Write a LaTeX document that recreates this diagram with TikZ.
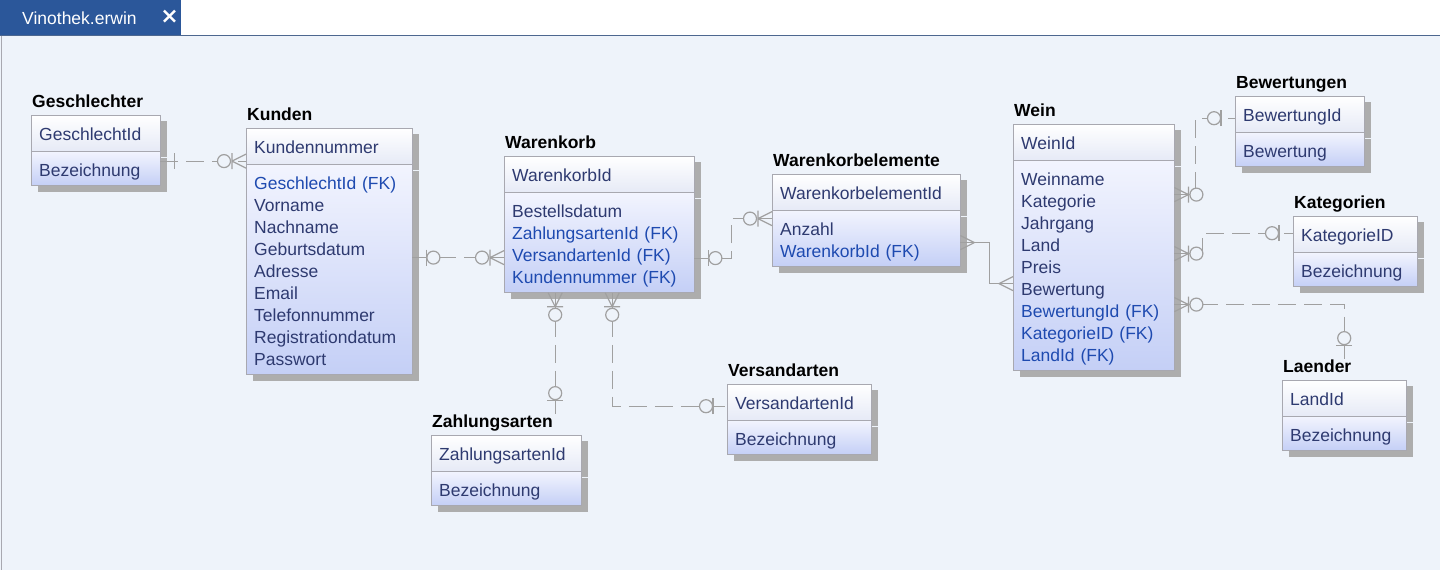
\documentclass[tikz,border=0pt]{standalone}
\usepackage{fontspec}
\setmainfont{Liberation Sans}
\newfontfamily\symfont{DejaVu Sans}
\usepackage{tikz}
\usetikzlibrary{shadows}

\definecolor{tabblue}{HTML}{2B579A}
\definecolor{canvas}{HTML}{EEF3FA}
\definecolor{navy}{HTML}{2E3A70}
\definecolor{fkblue}{HTML}{1E4AB0}
\definecolor{lgray}{HTML}{A0A0A0}
\definecolor{boxline}{HTML}{A8A8B0}
\definecolor{entshade}{HTML}{ADADAD}
\definecolor{keybot}{HTML}{E6EAF6}
\definecolor{atttop}{HTML}{F2F4FE}
\definecolor{attbot}{HTML}{C4CFF6}

\newcommand{\fk}[1]{\textcolor{fkblue}{#1}}
% name, x, y, width, title, key, attributes
\newcommand{\entity}[7]{%
  \pgfmathsetmacro{\entw}{#4-16}%
  \node[keybox, text width=\entw pt] (#1H) at (#2,#3) {#6};
  \node[attbox, text width=\entw pt] (#1B) at (#1H.south west) {#7};
  \node[titlebox] (#1T) at ([xshift=1pt,yshift=8pt]#1H.north west) {#5};
}

\tikzset{
  entshadow/.style={drop shadow={shadow xshift=7pt, shadow yshift=-6pt, fill=entshade, opacity=1}},
  keybox/.style={anchor=north west, draw=boxline, top color=white, bottom color=keybot,
    inner xsep=8pt, inner ysep=0pt, align=left, text=navy, entshadow,
    font=\fontsize{17.5}{22}\selectfont, execute at begin node=\rule[-11pt]{0pt}{36pt}},
  attbox/.style={anchor=north west, draw=boxline, top color=atttop, bottom color=attbot,
    inner xsep=8pt, inner ysep=0pt, align=left, text=navy, entshadow,
    font=\fontsize{17.5}{22}\selectfont, execute at begin node=\rule{0pt}{25pt},
    execute at end node=\rule[-9pt]{0pt}{9pt}},
  titlebox/.style={anchor=base west, inner sep=0pt, font=\bfseries\fontsize{17.5}{22}\selectfont},
  rel/.style={draw=lgray, line width=1.2pt, dash pattern=on 18pt off 8pt},
  idrel/.style={draw=lgray, line width=1.2pt},
  sym/.style={draw=lgray, line width=1.2pt, solid},
  one/.pic={\draw[sym] (-14pt,-8pt) -- (-14pt,8pt);},
  zone/.pic={\draw[sym] (-14pt,-8pt) -- (-14pt,8pt);
    \draw[sym, fill=canvas] (-21pt,0) circle (6.5pt);},
  crow/.pic={\draw[sym] (-14pt,0) -- (0,7pt) (-14pt,0) -- (0,-7pt);},
  zmany/.pic={\draw[sym] (-14pt,0) -- (0,7pt) (-14pt,0) -- (0,-7pt) (-14pt,-8pt) -- (-14pt,8pt);
    \draw[sym, fill=canvas] (-22pt,0) circle (6.5pt);},
}

\begin{document}
\begin{tikzpicture}[x=1pt, y=-1pt]
  \useasboundingbox (0,0) rectangle (1440,570);
  % window
  \fill[white] (0,0) rectangle (1440,36);
  \fill[canvas] (0,36) rectangle (1440,570);
  \draw[tabblue!60!gray, line width=1pt] (0,35.5) -- (1440,35.5);
  \draw[boxline] (1.5,36) -- (1.5,570);
  \fill[tabblue] (0,0) rectangle (181,35);
  \node[anchor=base west, inner sep=0pt, text=white, font=\fontsize{17.5}{22}\selectfont] (tab) at (22,24) {Vinothek.erwin};
  \node[inner sep=0pt, text=white, font=\symfont\bfseries\fontsize{22}{22}\selectfont] (close) at (169.5,17) {×};

  % entities
  \entity{ges}{31}{115}{129}{Geschlechter}{GeschlechtId}{Bezeichnung}
  \entity{kun}{246}{128}{166}{Kunden}{Kundennummer}{\fk{GeschlechtId (FK)}\\Vorname\\Nachname\\Geburtsdatum\\Adresse\\Email\\Telefonnummer\\Registrationdatum\\Passwort}
  \entity{war}{504}{156}{190}{Warenkorb}{WarenkorbId}{Bestellsdatum\\\fk{ZahlungsartenId (FK)}\\\fk{VersandartenId (FK)}\\\fk{Kundennummer (FK)}}
  \entity{wke}{772}{174}{188}{Warenkorbelemente}{WarenkorbelementId}{Anzahl\\\fk{WarenkorbId (FK)}}
  \entity{wei}{1013}{124}{161}{Wein}{WeinId}{Weinname\\Kategorie\\Jahrgang\\Land\\Preis\\Bewertung\\\fk{BewertungId (FK)}\\\fk{KategorieID (FK)}\\\fk{LandId (FK)}}
  \entity{bew}{1235}{96}{129}{Bewertungen}{BewertungId}{Bewertung}
  \entity{kat}{1293}{216}{124}{Kategorien}{KategorieID}{Bezeichnung}
  \entity{lae}{1282}{380}{124}{Laender}{LandId}{Bezeichnung}
  \entity{ver}{727}{384}{144}{Versandarten}{VersandartenId}{Bezeichnung}
  \entity{zah}{431}{435}{150}{Zahlungsarten}{ZahlungsartenId}{Bezeichnung}

  % relationships
  \draw[rel] ([yshift=7.5pt]gesB.east) coordinate (g1) -- (g1 -| kunH.west) coordinate (g2);
  \draw[rel] ([yshift=12pt]kunB.east) coordinate (k1) -- (k1 -| warB.west) coordinate (k2);
  \draw[rel] ([yshift=-15.5pt]warB.east) coordinate (w1) -- ++(37,0) |- ([yshift=20pt]wkeB.west) coordinate (w2);
  \draw[idrel] ([yshift=-4pt]wkeB.east) coordinate (e1) -- ++(29,0) |- ([yshift=-18pt]weiB.west) coordinate (e2);
  \draw[rel] ([xshift=-44pt]warB.south) coordinate (z1) -- (z1 |- zahT.north) coordinate (z2);
  \draw[rel] ([xshift=13pt]warB.south) coordinate (v1) |- ([yshift=-4pt]verH.west) coordinate (v2);
  \draw[rel] ([yshift=71pt]weiB.east) coordinate (b1) -- ++(21,0) |- ([yshift=-4pt]bewH.west) coordinate (b2);
  \draw[rel] ([yshift=12pt]weiB.east) coordinate (c1) -- ++(28,0) |- ([yshift=1pt]katH.west) coordinate (c2);
  \draw[rel] ([yshift=-39pt]weiB.east) coordinate (l1) -| (laeH.north |- laeT.north) coordinate (l2);

  % ends
  \path (g1) pic[rotate=180]{one} (g2) pic{zmany}
        (k1) pic[rotate=180]{zone} (k2) pic{zmany}
        (w1) pic[rotate=180]{zone} (w2) pic{zmany}
        (e1) pic[rotate=180]{crow} (e2) pic{crow}
        (z1) pic[rotate=90]{zmany} (z2) pic[rotate=-90]{zone}
        (v1) pic[rotate=90]{zmany} (v2) pic{zone}
        (b1) pic[rotate=180]{zmany} (b2) pic{zone}
        (c1) pic[rotate=180]{zmany} (c2) pic{zone}
        (l1) pic[rotate=180]{zmany} (l2) pic[rotate=-90]{zone};
\end{tikzpicture}
\end{document}
